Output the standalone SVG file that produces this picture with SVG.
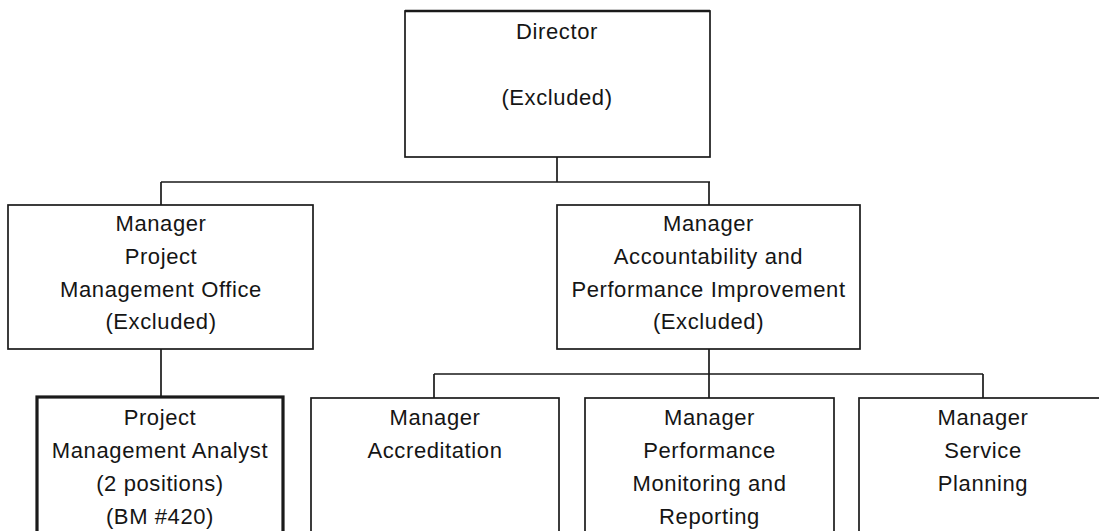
<svg xmlns="http://www.w3.org/2000/svg" width="1099" height="531" viewBox="0 0 1099 531">
<style>
  .box { fill: #ffffff; stroke: #1a1a1a; stroke-width: 1.7; }
  .thick { stroke-width: 3.2; }
  .conn { stroke: #1a1a1a; stroke-width: 1.7; fill: none; }
  text { font-family: "Liberation Sans", Arial, sans-serif; font-size: 22px; fill: #151515; text-anchor: middle; letter-spacing: 0.6px; }
</style>
<rect width="1099" height="531" fill="#ffffff"/>
<g id="connectors">
  <path class="conn" d="M557,157 V182 M161,182 H710 M161,182 V205 M709,182 V205 M161,349 V397 M709,349 V374 M434,374 H983 M434,374 V398 M709,374 V398 M983,374 V398"/>
</g>
<g id="director">
  <rect class="box" x="405" y="11" width="305" height="146"/>
  <line x1="405" y1="11" x2="710" y2="11" stroke="#1a1a1a" stroke-width="2.5"/>
  <text x="557" y="39">Director</text>
  <text x="557" y="105">(Excluded)</text>
</g>
<g id="mgr-pmo">
  <rect class="box" x="8" y="205" width="305" height="144"/>
  <text x="161" y="231">Manager</text>
  <text x="161" y="264">Project</text>
  <text x="161" y="297">Management Office</text>
  <text x="161" y="329">(Excluded)</text>
</g>
<g id="mgr-api">
  <rect class="box" x="557" y="205" width="303" height="144"/>
  <text x="708.5" y="231">Manager</text>
  <text x="708.5" y="264">Accountability and</text>
  <text x="708.5" y="297">Performance Improvement</text>
  <text x="708.5" y="329">(Excluded)</text>
</g>
<g id="analyst">
  <rect class="box thick" x="37" y="397" width="246" height="150"/>
  <text x="160" y="425">Project</text>
  <text x="160" y="458">Management Analyst</text>
  <text x="160" y="491">(2 positions)</text>
  <text x="160" y="524">(BM #420)</text>
</g>
<g id="mgr-accreditation">
  <rect class="box" x="311" y="398" width="248" height="150"/>
  <text x="435" y="425">Manager</text>
  <text x="435" y="458">Accreditation</text>
</g>
<g id="mgr-pmr">
  <rect class="box" x="585" y="398" width="249" height="150"/>
  <text x="709.5" y="425">Manager</text>
  <text x="709.5" y="458">Performance</text>
  <text x="709.5" y="491">Monitoring and</text>
  <text x="709.5" y="524">Reporting</text>
</g>
<g id="mgr-service">
  <rect class="box" x="859" y="398" width="248" height="150"/>
  <text x="983" y="425">Manager</text>
  <text x="983" y="458">Service</text>
  <text x="983" y="491">Planning</text>
</g>
</svg>
